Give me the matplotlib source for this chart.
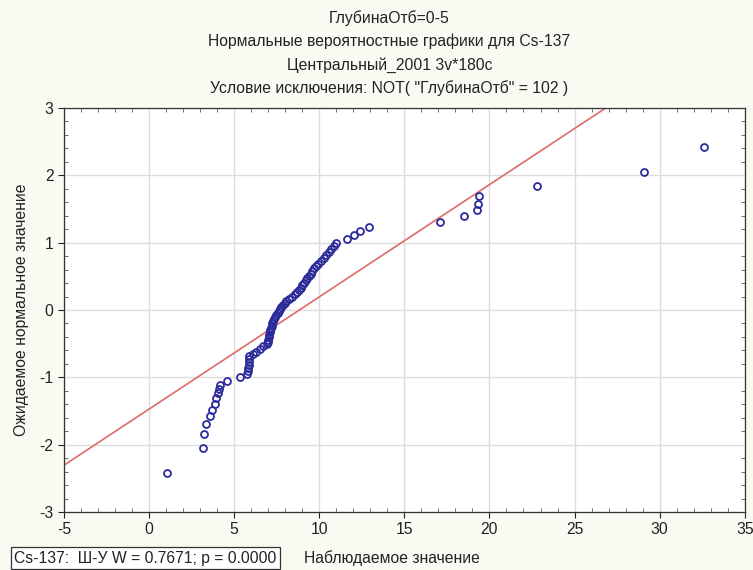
import matplotlib.pyplot as plt
from matplotlib.ticker import MultipleLocator

# наблюдаемые значения Cs-137 (отсортированы) и ожидаемые нормальные значения
observed = [1.03, 3.14, 3.22, 3.35, 3.57, 3.67, 3.88, 3.92, 4.05, 4.10,
            4.15, 4.56, 5.32, 5.78, 5.80, 5.82, 5.85, 5.86, 5.88, 5.90,
            6.10, 6.30, 6.50, 6.70, 6.95, 7.00, 7.00, 7.05, 7.05, 7.10,
            7.10, 7.15, 7.20, 7.25, 7.30, 7.35, 7.40, 7.47, 7.55, 7.62,
            7.70, 7.78, 7.87, 7.96, 8.05, 8.20, 8.40, 8.55, 8.70, 8.80,
            8.90, 9.00, 9.10, 9.20, 9.30, 9.40, 9.50, 9.60, 9.70, 9.80,
            9.95, 10.10, 10.25, 10.40, 10.55, 10.70, 10.85, 10.97, 11.60, 12.05,
            12.40, 12.90, 17.10, 18.50, 19.25, 19.35, 19.40, 22.80, 29.10, 32.60]
expected = [-2.42, -2.05, -1.84, -1.69, -1.58, -1.48, -1.39, -1.31, -1.24, -1.18,
            -1.11, -1.06, -1.00, -0.95, -0.91, -0.86, -0.82, -0.77, -0.73, -0.69,
            -0.65, -0.62, -0.58, -0.54, -0.51, -0.47, -0.44, -0.40, -0.37, -0.33,
            -0.30, -0.27, -0.24, -0.20, -0.17, -0.14, -0.11, -0.08, -0.05, -0.02,
            0.02, 0.05, 0.08, 0.11, 0.14, 0.17, 0.20, 0.24, 0.27, 0.30,
            0.33, 0.37, 0.40, 0.44, 0.47, 0.51, 0.54, 0.58, 0.62, 0.65,
            0.69, 0.73, 0.77, 0.82, 0.86, 0.91, 0.95, 1.00, 1.06, 1.11,
            1.18, 1.24, 1.31, 1.39, 1.48, 1.58, 1.69, 1.84, 2.05, 2.42]

# линия нормального распределения: среднее и ст. отклонение
line_mean = 8.83
line_sd = 6.0

titles = ["ГлубинаОтб=0-5",
          "Нормальные вероятностные графики для Cs-137",
          "Центральный_2001 3v*180c",
          "Условие исключения: NOT( \"ГлубинаОтб\" = 102 )"]
stat_text = "Cs-137:  Ш-У W = 0.7671; p = 0.0000"

plt.rcParams['font.family'] = ['Liberation Sans', 'DejaVu Sans']
plt.rcParams['axes.unicode_minus'] = False
fs = 11.3

fig = plt.figure(figsize=(7.53, 5.70), dpi=100, facecolor='#fbfaf2')
ax = fig.add_axes([0.085, 0.1018, 0.904, 0.7087])
ax.set_facecolor('white')

ax.axline((line_mean, 0), slope=1 / line_sd, color='#e06a6a', lw=1.2, zorder=2)
ax.plot(observed, expected, 'o', ls='none', ms=5, mfc='none', mec='#2a2a9a',
        mew=1.3, zorder=3)

ax.set_xlim(-5, 35)
ax.set_ylim(-3, 3)
ax.xaxis.set_major_locator(MultipleLocator(5))
ax.xaxis.set_minor_locator(MultipleLocator(1))
ax.yaxis.set_major_locator(MultipleLocator(1))
ax.yaxis.set_minor_locator(MultipleLocator(0.2))
ax.grid(True, which='major', color='#dcdcdc', lw=1.0, zorder=0)
ax.set_axisbelow(True)
ax.tick_params(which='major', direction='out', length=4, width=0.8,
               labelsize=fs, colors='#222222', top=False, right=False)
ax.tick_params(which='minor', direction='in', length=3, width=0.6,
               top=True, right=True, colors='#555555')
for s in ax.spines.values():
    s.set_color('#333333')
    s.set_linewidth(0.9)

ax.set_xlabel("Наблюдаемое значение", fontsize=fs, color='#222222')
ax.xaxis.set_label_coords(0.4816, -0.095)
ax.set_ylabel("Ожидаемое нормальное значение", fontsize=fs, color='#222222')
ax.yaxis.label.set_va('center')
ax.yaxis.set_label_coords(-0.062, 0.5)

for i, t in enumerate(titles):
    fig.text(0.517, 1 - (18 + 23.5 * i) / 570, t, ha='center', va='center',
             fontsize=fs, color='#222222')

fig.text(0.019, 1 - 558 / 570, stat_text, ha='left', va='center', fontsize=fs,
         color='#222222',
         bbox=dict(boxstyle='square,pad=0.2', fc='white', ec='#333333', lw=0.9))

fig.savefig('out.png', dpi=100, facecolor=fig.get_facecolor())
